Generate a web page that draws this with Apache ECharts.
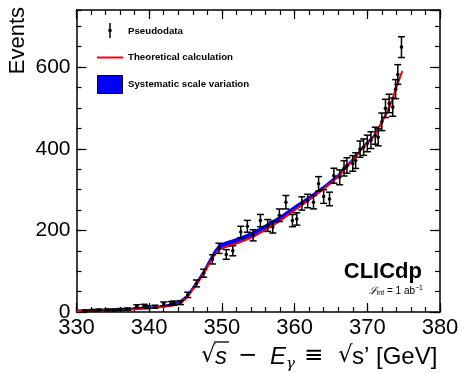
<!DOCTYPE html>
<html>
<head>
<meta charset="utf-8">
<script src="https://cdn.jsdelivr.net/npm/echarts@6/dist/echarts.min.js"></script>
<style>
  html, body { margin: 0; padding: 0; background: #fff; }
  #chart { width: 462px; height: 373px; }
</style>
</head>
<body>
<div id="chart"></div>
<script>
// Pseudodata: bin centres (GeV) and event counts
const dataX = [331.2, 332.2, 333.1, 334.2, 335.1, 336.0, 337.0, 338.3, 339.3, 339.8,
  340.8, 342.0, 343.0, 343.4, 344.3, 345.3, 346.5, 347.5, 348.7, 349.6,
  350.6, 351.5, 352.6, 353.5, 354.3, 355.3, 356.3, 357.0, 357.9, 358.8,
  359.7, 360.3, 361.0, 361.8, 362.6, 363.3, 364.0, 364.8, 365.4, 366.2,
  366.8, 367.2, 368.0, 368.4, 369.0, 369.5, 370.0, 370.5, 371.1, 371.5,
  372.0, 372.5, 373.0, 373.5, 373.9, 374.2, 374.7];
const dataY = [3, 4, 5, 5, 5, 6, 7, 14, 15, 12,
  13, 20, 21, 22, 23, 42, 70, 95, 129, 156,
  141, 150, 196, 210, 188, 224, 212, 208, 237, 269,
  224, 228, 266, 272, 269, 314, 283, 277, 334, 330,
  352, 359, 364, 371, 399, 404, 413, 421, 432, 428,
  466, 499, 511, 502, 546, 582, 649];

// Theoretical calculation and its systematic scale band
const theoryX = [330, 333, 336, 339, 341, 343, 344, 345, 345.7, 346.6, 347.5, 348, 348.9,
  349.6, 350.5, 351.6, 353, 354.3, 356, 358, 360, 362, 364, 366, 368, 369.5,
  370.9, 372, 373, 374, 374.8];
const theoryY = [2, 3, 5, 8, 11, 16, 20, 32, 48, 70, 94, 110, 138,
  153, 160, 166, 175, 185, 202, 224, 250, 275, 302, 332, 372, 405,
  430, 465, 500, 550, 590];
const bandLow = [0, 1, 3, 6, 9, 13, 17, 29, 45, 67, 91, 107, 135,
  150, 157, 163, 172, 182, 199, 221, 247, 272, 299, 329, 369, 402,
  427, 462, 497, 547, 587];
const bandHigh = [6, 7, 9, 12, 15, 21, 26, 39, 56, 79, 104, 121, 150,
  166, 173, 179, 188, 198, 215, 236, 261, 284, 310, 339, 378, 410,
  435, 470, 505, 555, 595];

// Axis settings
const xMin = 330, xMax = 380, xMajor = 10, xMinor = 2;
const yMin = 0, yMax = 740, yMajor = 200, yMinor = 50;

const points = dataX.map((x, i) => [x, dataY[i]]);
const theory = theoryX.map((x, i) => [x, theoryY[i]]);
const band = theoryX.map((x, i) => [x, bandLow[i], bandHigh[i]]);

const FONT = 'Liberation Sans, Arial, sans-serif';

function xAxisDef(pos, interval, len, showLine, showLabel) {
  return {
    type: 'value', position: pos, min: xMin, max: xMax, interval: interval,
    axisLine: { show: showLine, onZero: false, lineStyle: { color: '#000', width: 1.5 } },
    axisTick: { show: true, inside: true, length: len, lineStyle: { color: '#000', width: 1.2 } },
    axisLabel: { show: showLabel, color: '#000', fontSize: 22, fontFamily: FONT, margin: 5,
      formatter: v => (v % xMajor === 0 ? String(v) : '') },
    splitLine: { show: false }
  };
}
function yAxisDef(pos, interval, len, showLine, showLabel) {
  return {
    type: 'value', position: pos, min: yMin, max: yMax, interval: interval,
    axisLine: { show: showLine, onZero: false, lineStyle: { color: '#000', width: 1.5 } },
    axisTick: { show: true, inside: true, length: len, lineStyle: { color: '#000', width: 1.2 } },
    axisLabel: { show: showLabel, color: '#000', fontSize: 21, fontFamily: FONT, margin: 6,
      showMaxLabel: false, formatter: v => (v % yMajor === 0 ? String(v) : '') },
    splitLine: { show: false }
  };
}

const chart = echarts.init(document.getElementById('chart'), null, { renderer: 'canvas' });

const T = (x, y, text, font, extra) => ({
  type: 'text', x: x, y: y,
  style: Object.assign({ text: text, font: font, fill: '#000', verticalAlign: 'middle' }, extra || {})
});

chart.setOption({
  animation: false,
  backgroundColor: '#fff',
  grid: { left: 76.5, right: 22, top: 10, bottom: 61 },
  xAxis: [
    xAxisDef('bottom', xMajor, 9, true, true),
    xAxisDef('bottom', xMinor, 5, false, false),
    xAxisDef('top', xMajor, 9, true, false),
    xAxisDef('top', xMinor, 5, false, false)
  ],
  yAxis: [
    yAxisDef('left', yMajor, 10, true, true),
    yAxisDef('left', yMinor, 5, false, false),
    yAxisDef('right', yMajor, 10, true, false),
    yAxisDef('right', yMinor, 5, false, false)
  ],
  series: [
    {
      name: 'Systematic scale variation', type: 'custom', data: band, z: 1,
      renderItem: function (params, api) {
        if (params.dataIndex !== 0) return null;
        const upper = band.map(d => api.coord([d[0], d[2]]));
        const lower = band.map(d => api.coord([d[0], d[1]])).reverse();
        return {
          type: 'polygon', shape: { points: upper.concat(lower) },
          style: { fill: '#0000ff' }
        };
      }
    },
    {
      name: 'Theoretical calculation', type: 'line', data: theory, showSymbol: false,
      smooth: 0.3, lineStyle: { color: '#ff0000', width: 2 }, z: 2
    },
    {
      name: 'Pseudodata', type: 'custom', data: points, z: 3,
      renderItem: function (params, api) {
        const x = api.value(0), y = api.value(1);
        const err = Math.sqrt(y);
        const c = api.coord([x, y]);
        const lo = api.coord([x, y - err]);
        const hi = api.coord([x, y + err]);
        const cap = 3.5;
        const st = { stroke: '#000', lineWidth: 1.5 };
        return {
          type: 'group',
          children: [
            { type: 'line', shape: { x1: c[0], y1: lo[1], x2: c[0], y2: hi[1] }, style: st },
            { type: 'line', shape: { x1: c[0] - cap, y1: lo[1], x2: c[0] + cap, y2: lo[1] }, style: st },
            { type: 'line', shape: { x1: c[0] - cap, y1: hi[1], x2: c[0] + cap, y2: hi[1] }, style: st },
            { type: 'circle', shape: { cx: c[0], cy: c[1], r: 1.8 }, style: { fill: '#000' } }
          ]
        };
      }
    }
  ],
  graphic: [
    // legend
    { type: 'line', shape: { x1: 110, y1: 23, x2: 110, y2: 38 }, style: { stroke: '#000', lineWidth: 1.5 } },
    { type: 'circle', shape: { cx: 110, cy: 30.5, r: 1.8 }, style: { fill: '#000' } },
    T(128, 31, 'Pseudodata', 'bold 9.7px ' + FONT),
    { type: 'line', shape: { x1: 97, y1: 57.5, x2: 123, y2: 57.5 }, style: { stroke: '#ff0000', lineWidth: 2 } },
    T(128, 57.5, 'Theoretical calculation', 'bold 9.7px ' + FONT),
    { type: 'rect', shape: { x: 97.5, y: 75.5, width: 25, height: 18 }, style: { fill: '#0000ff', stroke: '#000', lineWidth: 1 } },
    T(128, 84.5, 'Systematic scale variation', 'bold 9.7px ' + FONT),
    // experiment label
    T(422, 272, 'CLICdp', 'bold 22px ' + FONT, { align: 'right' }),
    {
      type: 'text', x: 423, y: 291,
      style: {
        text: '{l|ℒ}{s|int}{n| = 1 ab}{p|−1}', align: 'right', verticalAlign: 'middle', fill: '#000',
        rich: {
          l: { font: 'italic 10px DejaVu Serif', fill: '#000' },
          s: { font: '7px ' + FONT, fill: '#000', padding: [5, 0, 0, 0] },
          n: { font: '10px ' + FONT, fill: '#000' },
          p: { font: '7px ' + FONT, fill: '#000', padding: [0, 0, 6, 0] }
        }
      }
    },
    // y axis title
    { type: 'text', x: 18, y: 7, rotation: Math.PI / 2,
      style: { text: 'Events', font: '22px ' + FONT, fill: '#000', align: 'right', verticalAlign: 'middle' } },
    // x axis title: √s − Eγ ≡ √s' [GeV]
    T(201, 356, '√', '23px DejaVu Sans'),
    { type: 'line', shape: { x1: 214, y1: 342, x2: 229, y2: 342 }, style: { stroke: '#000', lineWidth: 1.3 } },
    T(215, 357, 's', 'italic 24px ' + FONT),
    T(238, 356, '−', '23px DejaVu Sans'),
    T(270, 357, 'E', 'italic 24px ' + FONT),
    T(286, 364, 'γ', 'italic 15px DejaVu Serif'),
    T(304, 356, '≡', '23px DejaVu Sans'),
    T(338, 356, '√', '23px DejaVu Sans'),
    T(352, 357, 's\u2019 [GeV]', '24px ' + FONT)
  ]
});
</script>
</body>
</html>
